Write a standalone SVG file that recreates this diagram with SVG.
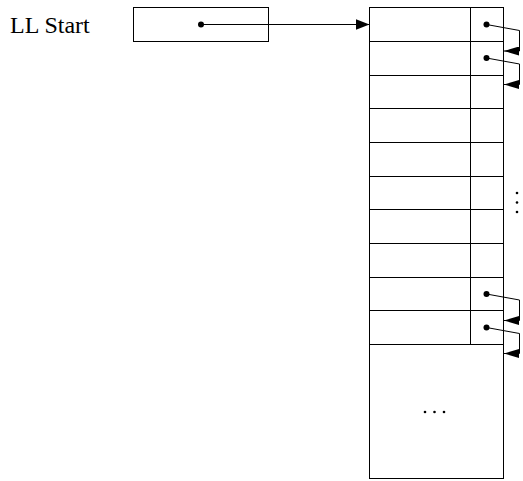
<svg xmlns="http://www.w3.org/2000/svg" width="523" height="481" viewBox="0 0 523 481">
<style>
.box{fill:#fff;stroke:#000;stroke-width:1}
.ln{fill:none;stroke:#000;stroke-width:1}
.dot{fill:#000}
.lbl{font-family:"Liberation Serif","Times New Roman",serif;font-size:24px;fill:#000}
</style>
<defs>
<marker id="ah" viewBox="0 0 14 11" refX="14" refY="5.5" markerWidth="14" markerHeight="11" markerUnits="userSpaceOnUse" orient="auto">
<path d="M0,0 L14,5.5 L0,11 z" fill="#000"/>
</marker>
<marker id="ah2" viewBox="0 0 15 9" refX="15" refY="4.5" markerWidth="15" markerHeight="9" markerUnits="userSpaceOnUse" orient="auto">
<path d="M0,0 L15,4.5 L0,9 z" fill="#000"/>
</marker>
</defs>
<rect width="523" height="481" fill="#fff"/>
<g id="label">
<text class="lbl" x="10" y="32.5">LL Start</text>
</g>
<g id="start">
<rect class="box" x="133.5" y="7.5" width="135" height="34"/>
</g>
<g id="array">
<rect class="box" x="369.5" y="7.5" width="134" height="471"/>
<path class="ln" d="M470.5,7.5 V344.5 M369.5,41.5 H503.5 M369.5,75.5 H503.5 M369.5,108.5 H503.5 M369.5,142.5 H503.5 M369.5,176.5 H503.5 M369.5,209.5 H503.5 M369.5,243.5 H503.5 M369.5,277.5 H503.5 M369.5,310.5 H503.5 M369.5,344.5 H503.5"/>
<circle class="dot" cx="517" cy="193" r="1.3"/>
<circle class="dot" cx="517" cy="202.5" r="1.3"/>
<circle class="dot" cx="517" cy="212" r="1.3"/>
<circle class="dot" cx="425" cy="412" r="1.3"/>
<circle class="dot" cx="434.5" cy="412" r="1.3"/>
<circle class="dot" cx="444" cy="412" r="1.3"/>
</g>
<g id="connectors">
<circle class="dot" cx="201" cy="24.5" r="3"/>
<path class="ln" d="M201,24.5 H369.5" marker-end="url(#ah)"/>
<circle class="dot" cx="486.5" cy="24.5" r="3"/>
<path class="ln" d="M486.5,24.5 L519.5,30.5 V51 H504" marker-end="url(#ah2)"/>
<circle class="dot" cx="486.5" cy="58" r="3"/>
<path class="ln" d="M486.5,58 L519.5,64 V84.5 H504" marker-end="url(#ah2)"/>
<circle class="dot" cx="486.5" cy="294" r="3"/>
<path class="ln" d="M486.5,294 L519.5,300 V320.5 H504" marker-end="url(#ah2)"/>
<circle class="dot" cx="486.5" cy="327.5" r="3"/>
<path class="ln" d="M486.5,327.5 L519.5,333.5 V353.5 H504" marker-end="url(#ah2)"/>
</g>
</svg>
